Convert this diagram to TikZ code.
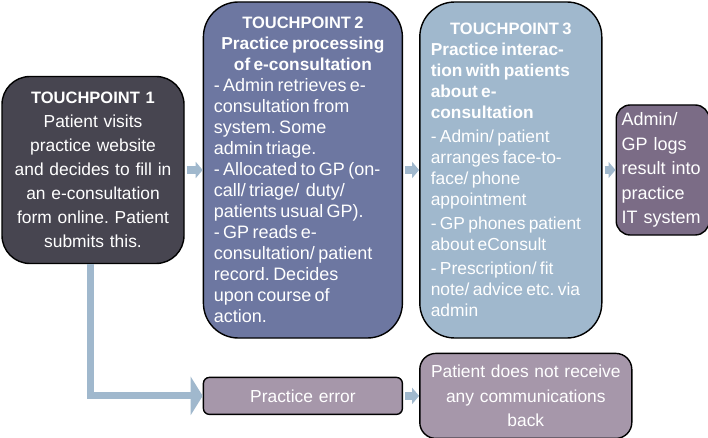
\documentclass[tikz,border=0pt]{standalone}
\usepackage{fontspec}
\setmainfont{Liberation Sans}
\usetikzlibrary{arrows.meta,positioning}
\frenchspacing

\definecolor{tpone}{RGB}{71,69,80}
\definecolor{tptwo}{RGB}{109,119,161}
\definecolor{tpthree}{RGB}{160,184,205}
\definecolor{tplog}{RGB}{123,108,134}
\definecolor{tperr}{RGB}{166,151,170}
\definecolor{tparrow}{RGB}{160,184,205}

\newcommand{\tphead}{\fontsize{16.5pt}{21pt}\selectfont\bfseries}
\newcommand{\tpsub}{\fontsize{17.3pt}{21pt}\selectfont\bfseries}
\newcommand{\tpbody}{\fontsize{17.4pt}{21pt}\selectfont}
\newcommand{\tpwide}{\fontsize{17.4pt}{24pt}\selectfont}

\begin{document}
\begin{tikzpicture}[box/.style={draw,line width=1.4pt,text=white,inner ysep=0pt,
        execute at begin node=\setlength{\parindent}{0pt}},
    blk/.style={draw=tparrow,line width=8pt,-{Triangle[length=7pt,width=16pt]},shorten <=2pt}]
    \useasboundingbox (0,0) rectangle (708pt,-438pt);
    \node[box,fill=tpone,rounded corners=28pt,text width=170pt,inner xsep=6pt,minimum height=187pt,align=center,font=\tpwide](tp1) at (93pt,-170pt){{\tphead TOUCHPOINT 1\par}Patient visits\\practice website\\and decides to fill in\\an e-consultation\\form online. Patient\\submits this.};
    \node[box,fill=tptwo,rounded corners=35pt,text width=178pt,inner xsep=10.5pt,minimum height=336pt,align=center](tp2)[right=18pt of tp1]{{\tphead TOUCHPOINT 2\par}{\tpsub Practice processing\\of e-consultation\par}{\raggedright\fontsize{18pt}{21pt}\selectfont
        \hangindent=11pt\hangafter=1 - Admin retrieves e-\\consultation from\\system. Some\\admin triage.\par
        \hangindent=11pt\hangafter=1 - Allocated to GP (on-\\call/ triage/ \ duty/\\patients usual GP).\par
        \hangindent=11pt\hangafter=1 - GP reads e-\\consultation/ patient\\record. Decides\\upon course of\\action.\par}};
    \node[box,fill=tpthree,rounded corners=35pt,text width=160pt,inner xsep=11pt,minimum height=336pt,align=left](tp3)[right=16pt of tp2]{{\centering\tphead TOUCHPOINT 3\par}{\tpsub Practice interac-\\tion with patients\\about e-\\consultation\par}{\tpbody\parskip=3pt
        - Admin/ patient\\arranges face-to-\\face/ phone\\appointment\par
        - GP phones patient\\about eConsult\par
        - Prescription/ fit\\note/ advice etc. via\\admin\par}};
    \node[box,fill=tplog,rounded corners=14pt,text width=82pt,inner xsep=5.5pt,minimum height=130pt,align=left,font=\fontsize{18pt}{24.5pt}\selectfont](tp4)[right=13pt of tp3]{Admin/\\GP logs\\result into\\practice\\IT system};
    \node[box,fill=tperr,rounded corners=6pt,text width=187pt,inner xsep=6pt,minimum height=37pt,align=center,font=\tpwide](err)[below=38pt of tp2]{Practice error};
    \node[box,fill=tperr,rounded corners=16pt,text width=200pt,inner xsep=6pt,minimum height=85pt,align=center,font=\fontsize{17.4pt}{24.5pt}\selectfont](pat)[right=16pt of err]{Patient does not receive\\any communications\\back};
    \draw[blk](tp1)--(tp2);
    \draw[blk](tp2)--(tp3);
    \draw[blk](tp3)--(tp4);
    \draw[blk](err)--(pat);
    \draw[draw=tparrow,line width=7pt,-{Triangle[length=12pt,width=38pt]}]([xshift=-3pt]tp1.south)|-(err);
\end{tikzpicture}
\end{document}
